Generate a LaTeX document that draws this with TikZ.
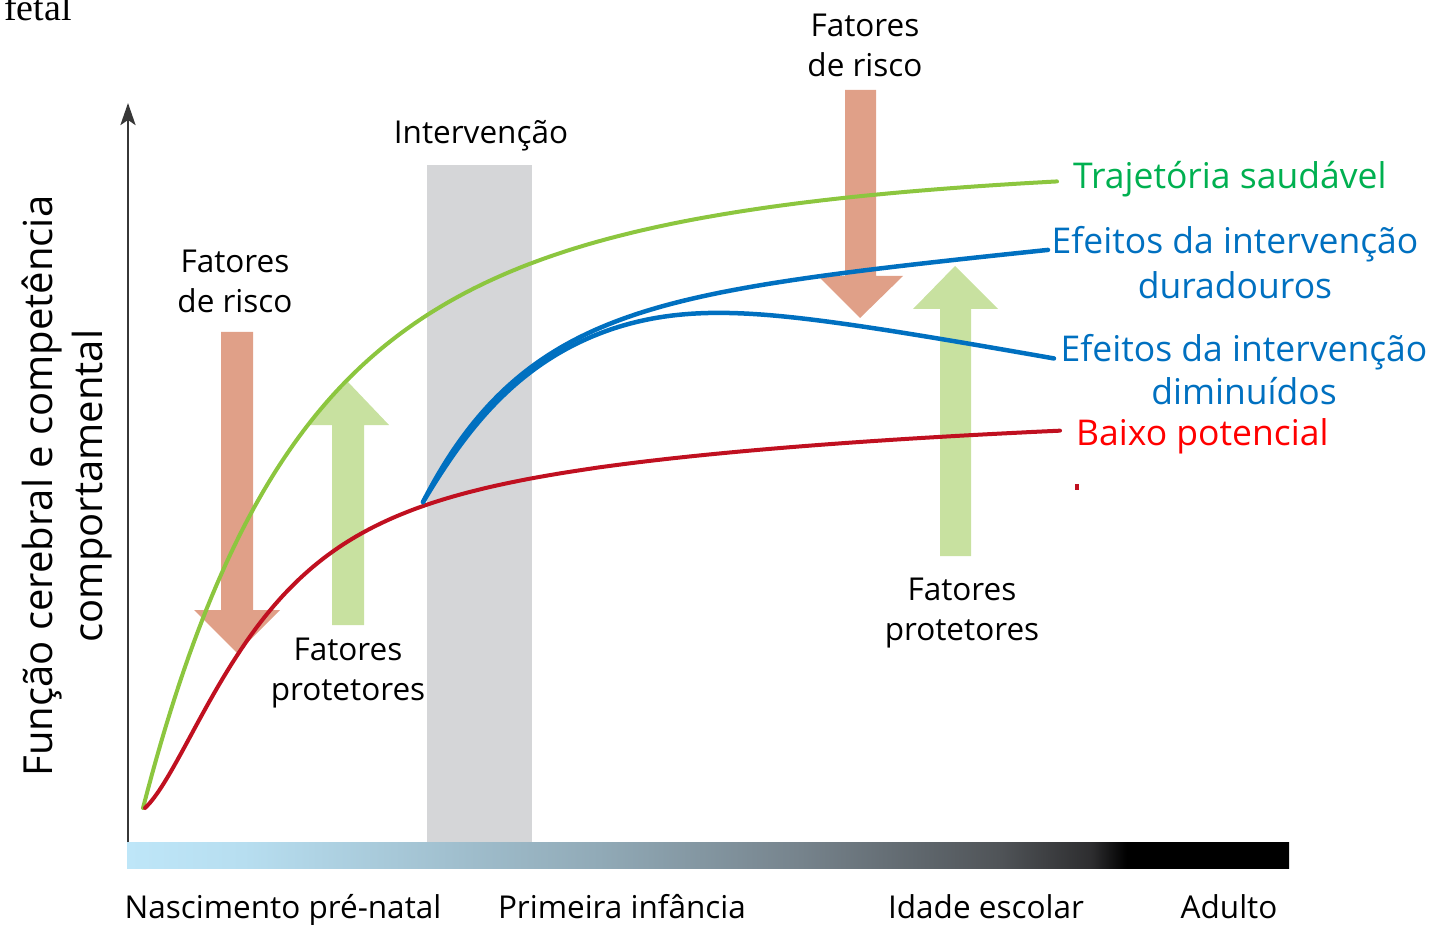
\documentclass[tikz,border=0pt]{standalone}
\usepackage{fontspec}
\setmainfont{Open Sans}
\newfontfamily\fetalfont{Liberation Serif}
\usetikzlibrary{arrows.meta}
\definecolor{riskc}{RGB}{224,160,136}
\definecolor{protc}{RGB}{200,225,160}
\definecolor{healthy}{RGB}{140,198,63}
\definecolor{lowc}{RGB}{192,16,32}
\definecolor{bluec}{RGB}{0,112,192}
\definecolor{greentxt}{RGB}{0,176,80}
\definecolor{redtxt}{RGB}{255,0,0}
\definecolor{interv}{RGB}{213,214,216}
\definecolor{axisc}{RGB}{55,55,55}
\definecolor{barA}{RGB}{190,230,248}
\definecolor{barB}{RGB}{183,222,240}
\definecolor{barC}{RGB}{145,170,183}
\definecolor{barD}{RGB}{118,131,140}
\definecolor{barE}{RGB}{80,84,88}
\definecolor{barF}{RGB}{45,45,47}
\pgfdeclarehorizontalshading{agebar}{100bp}{color(0bp)=(barA); color(25bp)=(barA); color(30bp)=(barB); color(45.3bp)=(barC); color(54bp)=(barD); color(62.5bp)=(barE); color(66.5bp)=(barF); color(68bp)=(black); color(100bp)=(black)}
\tikzset{
  lbl/.style={font=\fontsize{31.5}{40}\selectfont, align=center, inner sep=0pt},
  clbl/.style={font=\fontsize{35.5}{45}\selectfont, align=center, inner sep=0pt},
  curve/.style={line width=4pt, line cap=round, line join=round},
  bcurve/.style={curve, bluec, line width=4.5pt},
  riskarrow/.style={fill=riskc},
  protarrow/.style={fill=protc},
}
\begin{document}
\begin{tikzpicture}[x=1pt,y=-1pt]
\useasboundingbox (0,0) rectangle (1444,925);
% intervention band
\fill[interv] (427,165) rectangle (532,842);
% age bar
\shade[shading=agebar] (127,842) rectangle (1289,868);
% axis
\draw[axisc, line width=2.8pt, -{Stealth[length=22pt,width=15pt,inset=5pt]}] (128,842) -- (128,103);
% block arrows
\fill[riskarrow] (221,332) -- (253,332) -- (253,610) -- (280,610) -- (237,653) -- (194,610) -- (221,610) -- cycle;
\fill[protarrow] (332,625) -- (364,625) -- (364,425) -- (389,425) -- (348,382) -- (307,425) -- (332,425) -- cycle;
\fill[riskarrow] (845,90) -- (876,90) -- (876,276) -- (903,276) -- (860,318) -- (818,276) -- (845,276) -- cycle;
\fill[protarrow] (940,556) -- (971,556) -- (971,309) -- (998,309) -- (955,266) -- (913,309) -- (940,309) -- cycle;
% curves
\draw[curve, healthy] plot[domain=0:914, samples=200, variable=\d]
  ({143+\d}, {808 - 375*(1-exp(-0.0082*\d)) - 269*(1-exp(-0.003*\d))});
\draw[curve, lowc] plot[domain=0:915, samples=200, variable=\d]
  ({145+\d}, {808 - 259*(1-exp(-0.01024*\d)) - 141*(1-exp(-0.002*\d)) + 2*\d*exp(-\d/50)});
\draw[bcurve] plot[domain=0:625, samples=160, variable=\d]
  ({423+\d}, {502 - 190*(1-exp(-0.0098*\d)) - 0.1*\d});
\draw[bcurve] plot[domain=0:626, samples=160, variable=\d]
  ({423+\d+5*(1-exp(-\d/30))}, {502 - 190*(1-exp(-0.0098*\d)) - 0.1*\d + 14*ln(1+exp((\d-238)/50))});
\fill[lowc] (1075,484) rectangle (1079,490);
% labels
\node[anchor=base west, inner sep=0pt, font=\fetalfont\fontsize{38}{40}\selectfont] (fetal) at (4,21) {fetal};
\node[lbl] (risk1) at (235,281) {Fatores\\de risco};
\node[lbl] (prot1) at (348,673) {Fatores\\protetores};
\node[lbl] (interv) at (481,136) {Intervenção};
\node[lbl] (risk2) at (865,45) {Fatores\\de risco};
\node[lbl] (prot2) at (962,613) {Fatores\\protetores};
\node[clbl, text=greentxt, anchor=west] (healthylbl) at (1073,179) {Trajetória saudável};
\node[clbl, text=bluec] (lasting) at (1235,263) {Efeitos da intervenção\\duradouros};
\node[clbl, text=bluec, font=\fontsize{35.5}{43}\selectfont] (dimin) at (1244,369.5) {Efeitos da intervenção\\diminuídos};
\node[clbl, text=redtxt, anchor=west] (lowlbl) at (1076,436) {Baixo potencial};
\node[lbl, anchor=base] (age1) at (283,918) {Nascimento pré-natal};
\node[lbl, anchor=base] (age2) at (622,918) {Primeira infância};
\node[lbl, anchor=base] (age3) at (986,918) {Idade escolar};
\node[lbl, anchor=base] (age4) at (1229,918) {Adulto};
\node[lbl, rotate=90, font=\fontsize{40}{50}\selectfont] (yaxis) at (67,486) {Função cerebral e competência\\comportamental};
\end{tikzpicture}
\end{document}
